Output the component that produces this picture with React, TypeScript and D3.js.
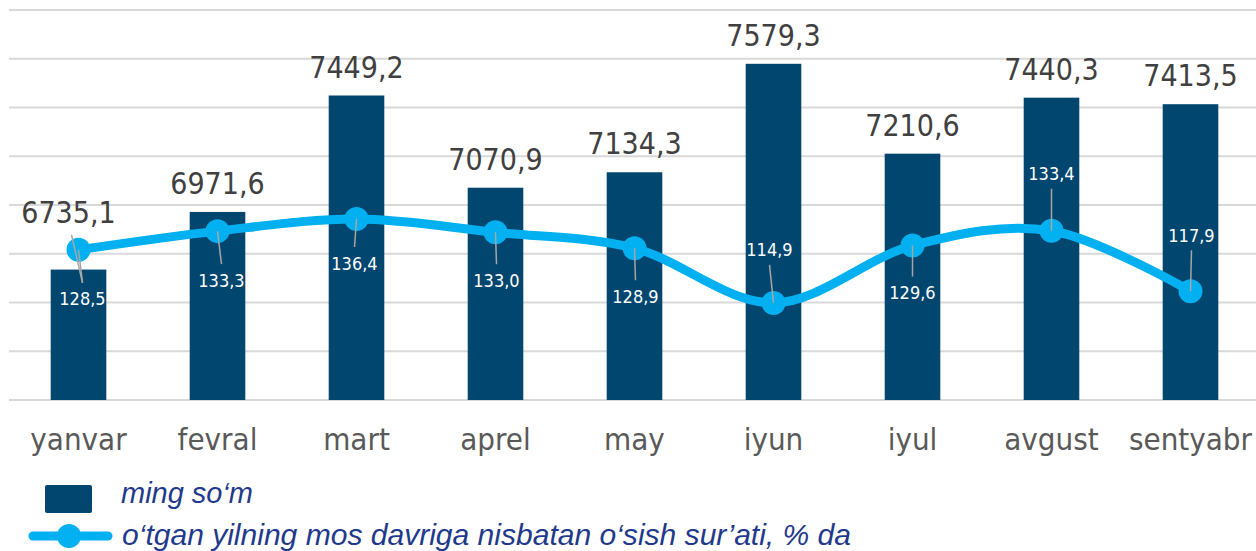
import React from 'react';
import * as d3 from 'd3';

// chart data
const categories = ['yanvar', 'fevral', 'mart', 'aprel', 'may', 'iyun', 'iyul', 'avgust', 'sentyabr'];
const amounts = [6735.1, 6971.6, 7449.2, 7070.9, 7134.3, 7579.3, 7210.6, 7440.3, 7413.5];
const growth = [128.5, 133.3, 136.4, 133.0, 128.9, 114.9, 129.6, 133.4, 117.9];
const leftTicks = [6200, 6400, 6600, 6800, 7000, 7200, 7400, 7600, 7800];
const legendLabels = ['ming so\u2018m', 'o\u2018tgan yilning mos davriga nisbatan o\u2018sish sur\u2019ati, % da'];

// label placement (manual, like in the original)
const growthLabelOffset: [number, number][] = [
  [4, 49], [4, 49], [-2, 44], [1, 48], [1, 48], [-4, -53], [0, 47], [0, -57], [1, -56],
];
const amountLabelOffset: [number, number][] = [
  [-10, -47], [0, -18], [0, -18], [0, -18], [0, -18], [0, -18], [0, -18], [0, -18], [0, -18],
];

const W = 1256;
const H = 551;
const numFont = '"DejaVu Sans Condensed", "DejaVu Sans", Tahoma, sans-serif';
const legendFont = '"Liberation Sans", Arial, sans-serif';

const fmt = (v: number) => v.toFixed(1).replace('.', ',');

const App = () => {
  const x = d3.scaleBand<string>()
    .domain(categories)
    .range([9, 1260])
    .paddingInner(0.6)
    .paddingOuter(0.3);

  const yLeft = d3.scaleLinear().domain([6200, 7800]).range([400, 10]);
  const yRight = d3.scaleLinear().domain([90, 190]).range([400, 10]);

  const cx = (c: string) => (x(c) as number) + x.bandwidth() / 2;

  const pts: [number, number][] = categories.map((c, i) => [cx(c), yRight(growth[i])]);
  const line = d3.line().curve(d3.curveCardinal.tension(0));

  return (
    <svg width={W} height={H} style={{ position: 'absolute', left: 0, top: 0, background: '#fff' }}>
      {/* gridlines */}
      {leftTicks.map(t => (
        <line key={t} x1={9} x2={W} y1={yLeft(t)} y2={yLeft(t)} stroke="#d9d9d9" strokeWidth={2} />
      ))}

      {/* bars */}
      {categories.map((c, i) => (
        <rect key={c} x={x(c)} y={yLeft(amounts[i])} width={x.bandwidth()}
          height={400 - yLeft(amounts[i])} fill="#00466e" />
      ))}

      {/* bar labels */}
      {categories.map((c, i) => (
        <text key={c} x={cx(c) + amountLabelOffset[i][0]} y={yLeft(amounts[i]) + amountLabelOffset[i][1]}
          textAnchor="middle" fontFamily={numFont} fontSize={30} fill="#404040">
          {fmt(amounts[i])}
        </text>
      ))}

      {/* growth line */}
      <path d={line(pts) || ''} fill="none" stroke="#00b0f0" strokeWidth={9} strokeLinecap="round" />
      {pts.map((p, i) => (
        <circle key={i} cx={p[0]} cy={p[1]} r={12} fill="#00b0f0" />
      ))}

      {/* leader lines + growth labels */}
      {pts.map((p, i) => {
        const [dx, dy] = growthLabelOffset[i];
        const lx = p[0] + dx;
        const ly = p[1] + dy;
        const endY = dy > 0 ? ly - 16 : ly + 15;
        return (
          <g key={i}>
            <line x1={p[0]} y1={p[1]} x2={lx} y2={endY} stroke="#a6a6a6" strokeWidth={1.5} />
            <text x={lx} y={ly} textAnchor="middle" dominantBaseline="central"
              fontFamily={numFont} fontSize={18} fill="#ffffff">
              {fmt(growth[i])}
            </text>
          </g>
        );
      })}
      {/* second leader on the first point */}
      <line x1={pts[0][0] - 7} y1={pts[0][1] - 15} x2={pts[0][0] + growthLabelOffset[0][0]}
        y2={pts[0][1] + growthLabelOffset[0][1] - 16} stroke="#a6a6a6" strokeWidth={1.5} />

      {/* category axis */}
      {categories.map(c => (
        <text key={c} x={cx(c)} y={450} textAnchor="middle" fontFamily={numFont}
          fontSize={31} fill="#595959">
          {c}
        </text>
      ))}

      {/* legend */}
      <rect x={45} y={485} width={47} height={28} rx={2} fill="#00466e" />
      <text x={121} y={503} fontFamily={legendFont} fontStyle="italic"
        fontSize={29} fill="#1f3a8c" textLength={132} lengthAdjust="spacingAndGlyphs">
        {legendLabels[0]}
      </text>
      <line x1={33} x2={108} y1={536} y2={536} stroke="#00b0f0" strokeWidth={9} strokeLinecap="round" />
      <circle cx={69} cy={536} r={12} fill="#00b0f0" />
      <text x={122} y={545} fontFamily={legendFont} fontStyle="italic"
        fontSize={29} fill="#1f3a8c" textLength={729} lengthAdjust="spacingAndGlyphs">
        {legendLabels[1]}
      </text>
    </svg>
  );
};

export default App;
